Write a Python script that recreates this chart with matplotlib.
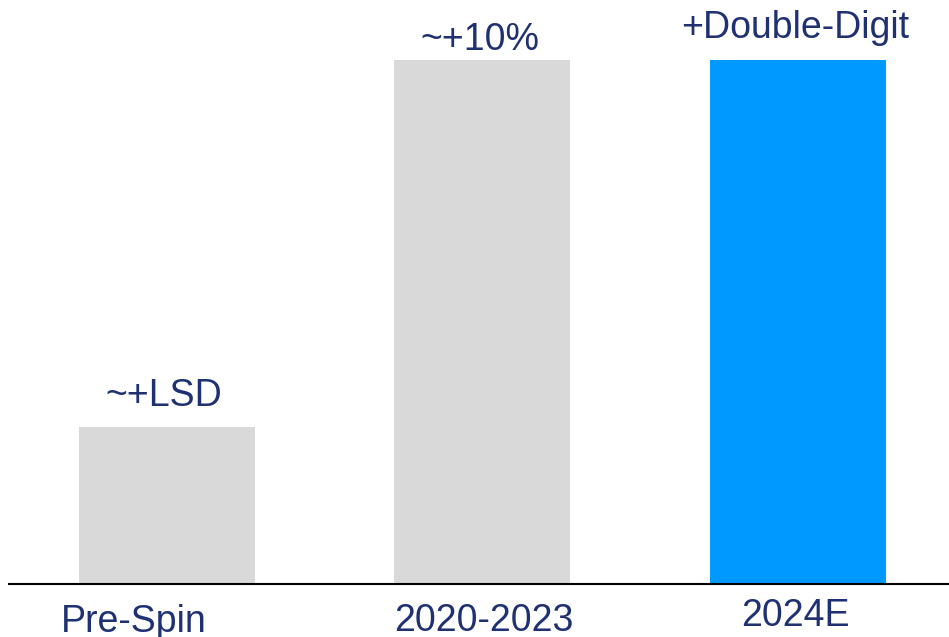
import matplotlib.pyplot as plt

# periodos e crescimento (alturas relativas das barras)
periodos = ['Pre-Spin', '2020-2023', '2024E']
valores = [3, 10, 10]
rotulos = ['~+LSD', '~+10%', '+Double-Digit']
cores = ['#D9D9D9', '#D9D9D9', '#0099FF']

azul_texto = '#1F3172'
plt.rcParams['font.family'] = ['Liberation Sans', 'DejaVu Sans']

fig = plt.figure(figsize=(9.49, 6.37), dpi=100)
ax = fig.add_axes([9 / 949, 53 / 637, 940 / 949, 584 / 637])

x = range(len(periodos))
ax.bar(x, valores, width=0.558, color=cores)

# distancia vertical dos rotulos acima das barras (pontos)
alt_rot = [15, 7.5, 16]
for i, v in enumerate(valores):
    ax.annotate(rotulos[i], xy=(i, v), xytext=(-2, alt_rot[i]), textcoords='offset points',
                ha='center', va='baseline', fontsize=27, color=azul_texto)

# deslocamento dos nomes dos periodos (em pontos)
desloc_x = [-23.8, 1, -1.8]
desloc_y = [-34.5, -33.8, -30.2]
for i, p in enumerate(periodos):
    ax.annotate(p, xy=(i, 0), xytext=(desloc_x[i], desloc_y[i]), textcoords='offset points',
                ha='center', va='baseline', fontsize=27, color=azul_texto,
                annotation_clip=False)

ax.set_xlim(-0.5, 2.48)
ax.set_ylim(0, 11.15)
for lado in ['top', 'right', 'left']:
    ax.spines[lado].set_visible(False)
ax.spines['bottom'].set_linewidth(1.5)
ax.spines['bottom'].set_color('black')
ax.set_xticks([])
ax.set_yticks([])

fig.savefig('out.png', dpi=100)
